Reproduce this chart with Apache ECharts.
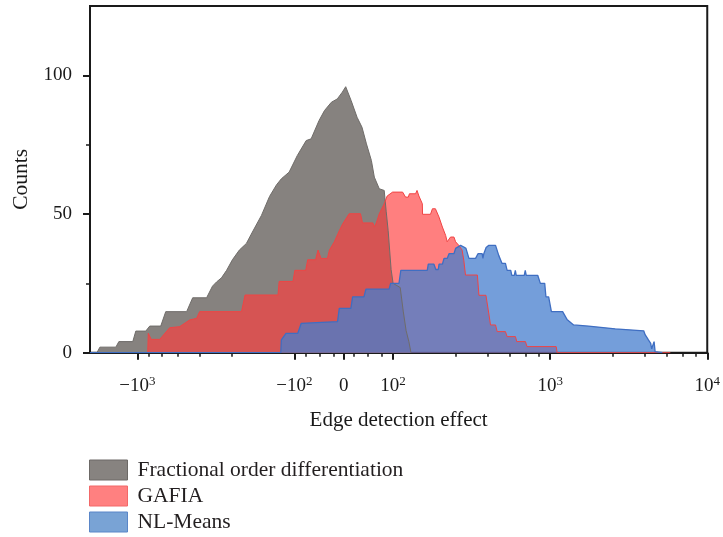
<!DOCTYPE html>
<html>
<head>
<meta charset="utf-8">
<script src="https://cdn.jsdelivr.net/npm/echarts@6/dist/echarts.min.js"></script>
<style>
html,body{margin:0;padding:0;background:#fff;}
#chart{width:723px;height:537px;}
</style>
</head>
<body>
<div id="chart"></div>
<script>
// ---- Data (x in real "edge detection effect" units, y = counts) ----
const seriesNames = ['Fractional order differentiation', 'GAFIA', 'NL-Means'];

const grayX = [-1807,-1730,-1369,-1310,-1068,-1022,-883,-833,-709,-659,-485,-444,-362,-332,-313,-291,-270,-248,-224,-202,-185,-162,-144,-130,-121,-108,-94,-76,-66,-50,-39,-25,-13,-3,4,15,27,37,46,56,62,72,82,86,90,96,100,111,116,121,126,130];
const grayY = [0,2,2,4,4,7.8,7.8,9.6,9.6,14.8,14.8,19.8,19.8,24,25.5,27,29.7,33.5,37,39.4,43.5,49.5,56.3,60.5,62.7,65.1,71.1,76.5,77.1,83.7,87.3,90.3,91.5,93.9,95.9,90.9,84.9,81.3,75.3,69.3,63.3,59.1,58.5,51,44,30,25,23.5,15,8,4,0];

const redX = [-858,-851,-815,-720,-622,-537,-464,-419,-401,-217,-206,-127,-125,-102,-99,-77,-73,-57,-52,-46,-33,-29,-19,-9,-2,11,34,38,59,62,66,72,82,88,99,115,120,125,127,139,142,146,153.5,154,173,178,186,196,206,216,221,232,244,250,262,275,282,289,344,352,390,407,417,449,460,519,532,601,613,696,712,1092,1108,5820];
const redY = [0,7,4.8,4.8,9,9.4,11.8,12.4,14.8,14.8,20.8,20.8,25.7,25.7,29.7,29.7,33.5,33.5,37,34,34,37,40,44,46.5,50.1,50.1,46.8,46.8,45.3,46.8,50.1,53.7,56.5,57.9,57.9,56.1,56.1,57.3,57.3,58.5,56.5,53.7,49.9,49.9,51.9,51.9,48.9,45.3,42.3,40,41.7,41.7,40,38.7,37,33.3,28,28,20.7,20.7,14,10,10,7.6,7.6,5.8,5.8,4,4,2.2,2.2,0,0];

const blueX = [-2000,-122,-121,-113,-93,-86,-83,-12.5,-9,14.5,18,41,45,92,95,109,112,165,167.5,182,187,194,196,206,211,221,227,244,250,269,282,291,304,335,347,369,373,378,391,407,449,471,494,519,532,561,570,591,600,608,684,694,704,833,866,923,940,978,1018,1200,1280,1410,1756,2594,3940,4021,4117,4221,4365,4429,4541,4587,4656,4710,5180];
const blueY = [0,0,4.6,7,7,10.6,11.2,11.2,16,16,20.1,20.1,22.9,22.9,25,25,29.7,29.7,31.9,31.9,30,30,31.9,31.9,34,34,35.7,35.7,37.6,38.7,38.1,37.6,34,34,35.7,35.7,34,35.7,37.9,38.7,38.7,35,32.2,32.2,29.7,29.7,27.9,27.9,29.7,27.9,27.9,29.7,27.9,27.9,25,25,20.1,20.1,14.8,14.8,12,10,9.6,8.6,7.9,6.5,6,4.6,3.4,1.4,1.4,4,0.4,0,0];

const xMajorTicks = [-1000, -100, 0, 100, 1000, 10000];
const xMinorTicks = [-850,-700,-550,-400,-250,-77,-49,-20,20,49,77,250,400,550,700,850,2500,4000,5500,7000,8500];
const xRange = [-2000, 10000];
const yMajorTicks = [0, 50, 100];
const yMinorTicks = [25, 75];
const yRange = [0, 125];

// ---- symmetric log transform (linear within ±100) ----
const LIN_THRESH = 100;
const LIN_WIDTH = 0.3143; // width of linear half-region, in decades
function symlog(v) {
  const a = Math.abs(v);
  if (a <= LIN_THRESH) return v / LIN_THRESH * LIN_WIDTH;
  return Math.sign(v) * (LIN_WIDTH + Math.log10(a / LIN_THRESH));
}

const FONT = "'Liberation Serif', 'DejaVu Serif', serif";
const INK = '#1a1a1a';

function pts(xs, ys) { return xs.map((x, i) => [symlog(x), ys[i]]); }

function tickLabel(val) {
  let best = xMajorTicks[0], bd = Infinity;
  xMajorTicks.forEach(t => { const d = Math.abs(symlog(t) - val); if (d < bd) { bd = d; best = t; } });
  if (best === 0) return '{b|0}';
  const e = Math.round(Math.log10(Math.abs(best)));
  return '{b|' + (best < 0 ? '\u221210' : '10') + '}{s|' + e + '}';
}

const chart = echarts.init(document.getElementById('chart'), null, {renderer: 'canvas'});
const option = {
  animation: false,
  backgroundColor: '#fff',
  grid: {left: 90, top: 6, width: 619, height: 346.7, show: true, borderColor: INK, borderWidth: 2},
  xAxis: [{
    type: 'value', min: symlog(xRange[0]), max: symlog(xRange[1]),
    axisLine: {show: true, onZero: false, lineStyle: {color: INK, width: 2}},
    splitLine: {show: false},
    axisTick: {show: true, customValues: xMajorTicks.map(symlog), length: 7, lineStyle: {color: INK, width: 2}},
    axisLabel: {
      customValues: xMajorTicks.map(symlog), formatter: tickLabel, margin: 22,
      rich: {
        b: {fontFamily: FONT, fontSize: 19, color: INK, lineHeight: 22},
        s: {fontFamily: FONT, fontSize: 13, color: INK, lineHeight: 10, verticalAlign: 'top'}
      }
    },
    name: 'Edge detection effect', nameLocation: 'middle', nameGap: 57,
    nameTextStyle: {fontFamily: FONT, fontSize: 21, color: INK}
  }, {
    type: 'value', min: symlog(xRange[0]), max: symlog(xRange[1]), position: 'bottom', offset: 0,
    axisLine: {show: false, onZero: false}, splitLine: {show: false}, axisLabel: {show: false},
    axisTick: {show: true, customValues: xMinorTicks.map(symlog), length: 4, lineStyle: {color: INK, width: 1.5}}
  }],
  yAxis: [{
    type: 'value', min: yRange[0], max: yRange[1],
    axisLine: {show: true, onZero: false, lineStyle: {color: INK, width: 2}},
    splitLine: {show: false},
    axisTick: {show: true, customValues: yMajorTicks, length: 7, lineStyle: {color: INK, width: 2}},
    axisLabel: {customValues: yMajorTicks, margin: 18, fontFamily: FONT, fontSize: 19, color: INK},
    name: 'Counts', nameLocation: 'middle', nameGap: 58, nameRotate: 90,
    nameTextStyle: {fontFamily: FONT, fontSize: 21.5, color: INK}
  }, {
    type: 'value', min: yRange[0], max: yRange[1], position: 'left', offset: 0,
    axisLine: {show: false, onZero: false}, splitLine: {show: false}, axisLabel: {show: false},
    axisTick: {show: true, customValues: yMinorTicks, length: 4, lineStyle: {color: INK, width: 1.5}}
  }],
  legend: {
    orient: 'vertical', left: 89, top: 459, padding: 0, itemWidth: 38, itemHeight: 20, itemGap: 4, icon: 'rect',
    height: 78,
    textStyle: {fontFamily: FONT, fontSize: 21.5, lineHeight: 22, color: '#231f20', padding: [0, 0, 0, 5]},
    data: [
      {name: seriesNames[0], itemStyle: {color: '#878380', borderColor: '#6c6966', borderWidth: 1}},
      {name: seriesNames[1], itemStyle: {color: '#ff8080', borderColor: '#f26868', borderWidth: 1}},
      {name: seriesNames[2], itemStyle: {color: '#79a3d5', borderColor: '#5a86c8', borderWidth: 1}}
    ]
  },
  series: [
    {name: seriesNames[0], type: 'line', symbol: 'none', data: pts(grayX, grayY),
     itemStyle: {color: '#878380'},
     lineStyle: {color: '#6f6c69', width: 1}, areaStyle: {color: 'rgb(134,130,127)', opacity: 1}},
    {name: seriesNames[1], type: 'line', symbol: 'none', data: pts(redX, redY),
     itemStyle: {color: '#ff8080'},
     lineStyle: {color: '#f04444', width: 1}, areaStyle: {color: 'rgba(255,60,60,0.66)', opacity: 1}},
    {name: seriesNames[2], type: 'line', symbol: 'none', data: pts(blueX, blueY),
     itemStyle: {color: '#79a3d5'},
     lineStyle: {color: '#3f6ec2', width: 1.3}, areaStyle: {color: 'rgba(70,125,205,0.75)', opacity: 1}}
  ]
};
chart.setOption(option);
</script>
</body>
</html>
